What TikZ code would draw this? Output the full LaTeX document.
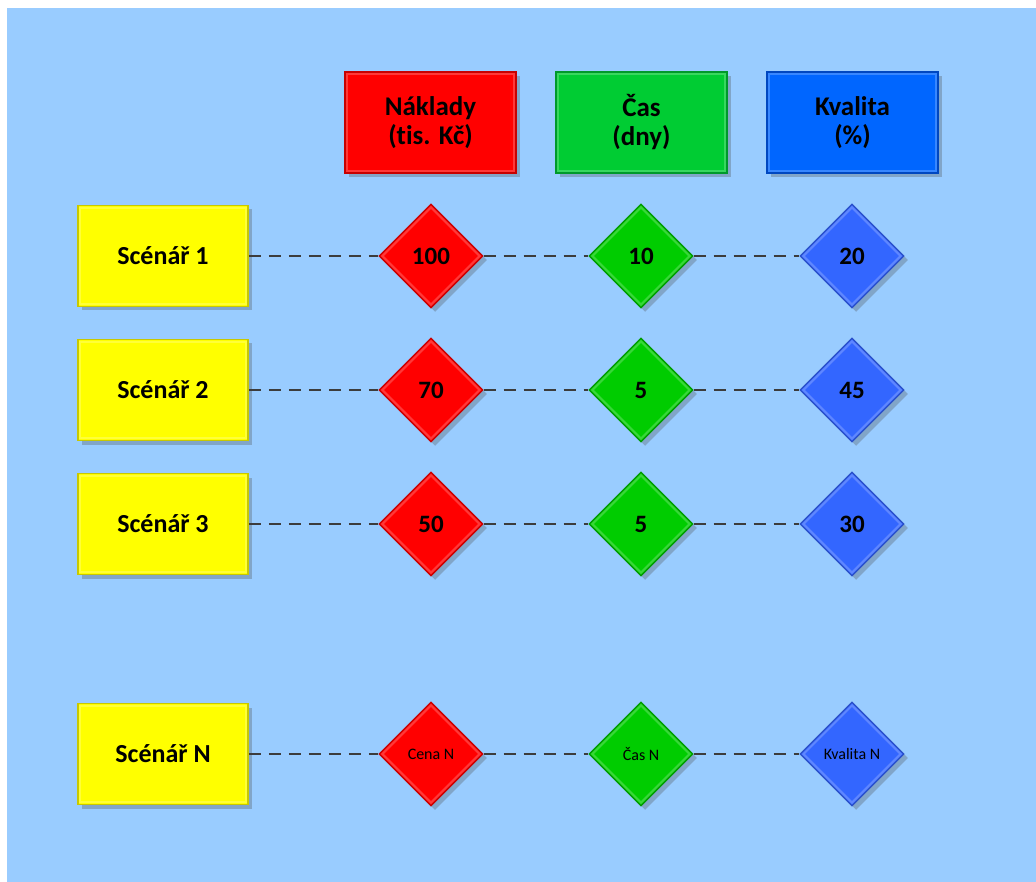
\documentclass[tikz,border=0pt]{standalone}
\usepackage{fontspec}
\setmainfont{Carlito}[Ligatures=NoCommon]
\usetikzlibrary{shapes.geometric,shadows}
\definecolor{bg}{HTML}{99CCFF}
\definecolor{hred}{HTML}{FF0000}
\definecolor{hredd}{HTML}{C80000}
\definecolor{hgreen}{HTML}{00CC33}
\definecolor{hgreend}{HTML}{00992B}
\definecolor{hblue}{HTML}{0066FF}
\definecolor{hblued}{HTML}{0047C0}
\definecolor{dgreen}{HTML}{00CC00}
\definecolor{dgreend}{HTML}{009900}
\definecolor{dblue}{HTML}{3366FF}
\definecolor{dblued}{HTML}{2A4FC8}
\definecolor{yel}{HTML}{FFFF00}
\definecolor{yeld}{HTML}{C8C800}
\definecolor{dashc}{HTML}{3C3C3C}
\begin{document}
\begin{tikzpicture}[x=1pt,y=-1pt,
  shad/.style={drop shadow={shadow xshift=4pt,shadow yshift=-4pt,opacity=0.3,fill=black!70}},
  hdr/.style={rectangle,minimum width=171pt,minimum height=101pt,line width=1.5pt,shad,
    font=\bfseries\fontsize{27}{29}\selectfont,align=center,inner sep=0pt},
  scen/.style={rectangle,fill=yel,draw=yeld,minimum width=170pt,minimum height=101pt,line width=1.5pt,shad,
    font=\bfseries\fontsize{26}{30}\selectfont,inner sep=0pt},
  val/.style={diamond,minimum width=104pt,minimum height=104pt,inner sep=0pt,line width=1.2pt,shad,
    font=\bfseries\fontsize{25}{28}\selectfont},
  small/.style={font=\fontsize{16}{18}\selectfont},
  vr/.style={val,fill=hred,draw=hredd},
  vg/.style={val,fill=dgreen,draw=dgreend},
  vb/.style={val,fill=dblue,draw=dblued},
  bevel/.style={draw=white,opacity=0.22,line width=2pt},
  dl/.style={draw=dashc,line width=1.4pt,dash pattern=on 12pt off 8pt}]
\useasboundingbox (0,0) rectangle (1036,882);
\fill[white] (0,0) rectangle (1036,882);
\fill[bg] (7,8) rectangle (1036,882);

\node[hdr,fill=hred,draw=hredd] (h1) at (430.5,122.5) {Náklady\\(tis. Kč)};
\node[hdr,fill=hgreen,draw=hgreend] (h2) at (641.5,122.5) {Čas\\(dny)};
\node[hdr,fill=hblue,draw=hblued] (h3) at (852.5,122.5) {Kvalita\\(\%)};

\foreach \r/\y/\lab/\a/\b/\c in {1/256/Scénář 1/100/10/20,2/390/Scénář 2/70/5/45,3/524/Scénář 3/50/5/30}{
  \node[scen] (s\r) at (163,\y) {\lab};
  \node[vr] (a\r) at (431,\y) {\a};
  \node[vg] (b\r) at (641,\y) {\b};
  \node[vb] (c\r) at (852,\y) {\c};
  \draw[dl] (s\r.east) -- (a\r.west);
  \draw[dl] (a\r.east) -- (b\r.west);
  \draw[dl] (b\r.east) -- (c\r.west);
}
\node[scen] (sN) at (163,754) {Scénář N};
\node[vr,small] (aN) at (431,754) {Cena N};
\node[vg,small] (bN) at (641,754) {Čas N};
\node[vb,small] (cN) at (852,754) {Kvalita N};
\draw[dl] (sN.east) -- (aN.west);
\draw[dl] (aN.east) -- (bN.west);
\draw[dl] (bN.east) -- (cN.west);

\foreach \n in {h1,h2,h3,s1,s2,s3,sN}{
  \draw[bevel] ([xshift=3pt,yshift=-3pt]\n.north west) rectangle ([xshift=-3pt,yshift=3pt]\n.south east);
}
\foreach \n in {a1,a2,a3,aN,b1,b2,b3,bN,c1,c2,c3,cN}{
  \draw[bevel] ([yshift=-4pt]\n.north) -- ([xshift=-4pt]\n.east) -- ([yshift=4pt]\n.south) -- ([xshift=4pt]\n.west) -- cycle;
}
\end{tikzpicture}
\end{document}
